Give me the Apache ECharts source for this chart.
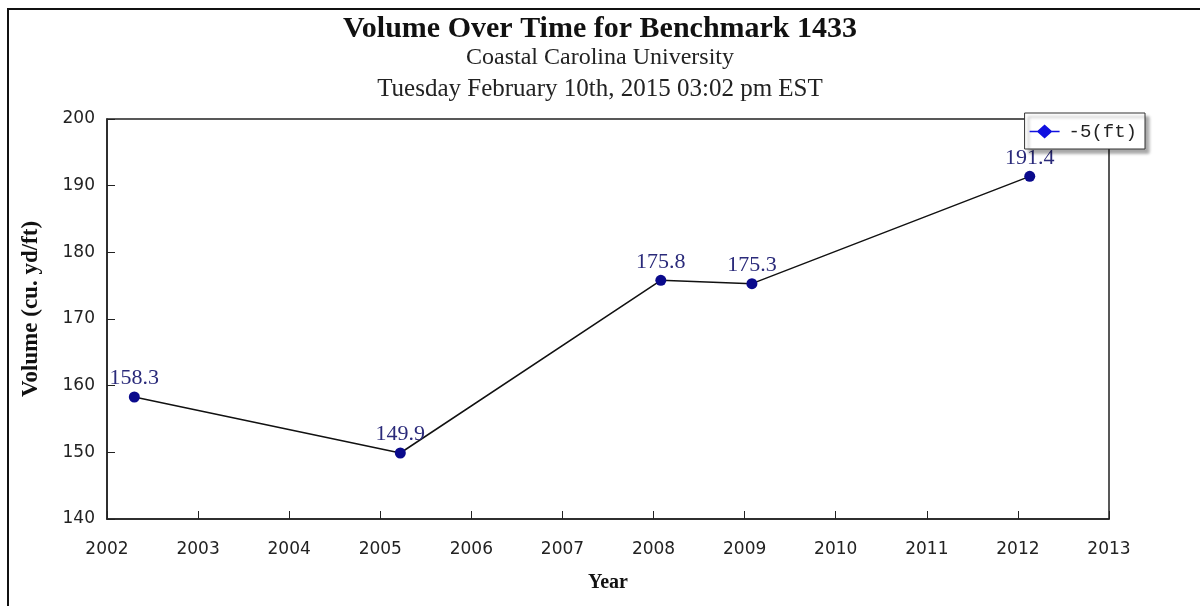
<!DOCTYPE html>
<html>
<head>
<meta charset="utf-8">
<title>Volume Over Time for Benchmark 1433</title>
<script src="https://cdn.jsdelivr.net/npm/echarts@6/dist/echarts.min.js"></script>
<style>
  html, body { margin: 0; padding: 0; background: #fff; }
  #chart { width: 1200px; height: 606px; }
</style>
</head>
<body>
<div id="chart"></div>
<script>
// survey years (decimal) and volumes
const years = [2002.3, 2005.22, 2008.08, 2009.08, 2012.13];
const volumes = [158.3, 149.9, 175.8, 175.3, 191.4];
const seriesName = '-5(ft)';
const titleText = 'Volume Over Time for Benchmark 1433';
const subLines = ['Coastal Carolina University', 'Tuesday February 10th, 2015 03:02 pm EST'];

const serif = '"Liberation Serif", "DejaVu Serif", serif';
const sans = '"DejaVu Sans", Verdana, sans-serif';

const chart = echarts.init(document.getElementById('chart'));

chart.setOption({
  animation: false,
  backgroundColor: '#fff',
  title: [{
    text: titleText,
    left: 'center',
    top: 13,
    padding: 0,
    textStyle: { fontFamily: serif, fontSize: 30, fontWeight: 'bold', color: '#111', lineHeight: 32 }
  }, {
    text: subLines[0],
    left: 'center',
    top: 44,
    padding: 0,
    textStyle: { fontFamily: serif, fontSize: 24, fontWeight: 'normal', color: '#222', lineHeight: 28 }
  }, {
    text: subLines[1],
    left: 'center',
    top: 75,
    padding: 0,
    textStyle: { fontFamily: serif, fontSize: 25, fontWeight: 'normal', color: '#222', lineHeight: 28 }
  }],
  legend: {
    data: [{ name: seriesName, icon: 'path://M0,6.3h8l7,-6.3l7,6.3h8v1.4h-8l-7,6.3l-7,-6.3h-8z', itemStyle: { color: '#1010e0' } }],
    right: 55,
    top: 113,
    backgroundColor: '#fff',
    borderColor: '#333',
    borderWidth: 1,
    padding: [9, 8, 8, 5],
    borderRadius: 0,
    shadowColor: 'rgba(0,0,0,0.35)',
    shadowOffsetX: 4,
    shadowOffsetY: 4,
    shadowBlur: 3,
    itemWidth: 30,
    itemHeight: 14,
    textStyle: { fontFamily: '"Liberation Mono", "DejaVu Sans Mono", monospace', fontSize: 19, color: '#222', padding: [0, 0, 0, 4] }
  },
  grid: {
    left: 107,
    right: 91,
    top: 119,
    bottom: 87,
    show: true,
    borderColor: '#222',
    borderWidth: 1.5
  },
  xAxis: {
    type: 'value',
    min: 2002,
    max: 2013,
    interval: 1,
    name: 'Year',
    nameLocation: 'middle',
    nameGap: 54,
    nameTextStyle: { fontFamily: serif, fontSize: 20, fontWeight: 'bold', color: '#111' },
    axisLine: { show: true, lineStyle: { color: '#222', width: 1.5 } },
    axisTick: { show: true, inside: true, length: 8, lineStyle: { color: '#222' } },
    axisLabel: { fontFamily: sans, fontSize: 17, color: '#222', margin: 22, formatter: v => String(v) },
    splitLine: { show: false }
  },
  yAxis: {
    type: 'value',
    min: 140,
    max: 200,
    interval: 10,
    name: 'Volume (cu. yd/ft)',
    nameLocation: 'middle',
    nameGap: 64,
    nameRotate: 90,
    nameTextStyle: { fontFamily: serif, fontSize: 23, fontWeight: 'bold', color: '#111', padding: [0, 0, 0, 20] },
    axisLine: { show: true, lineStyle: { color: '#222', width: 1.5 } },
    axisTick: { show: true, inside: true, length: 8, lineStyle: { color: '#222' } },
    axisLabel: { fontFamily: sans, fontSize: 17, color: '#222', margin: 12 },
    splitLine: { show: false }
  },
  series: [{
    name: seriesName,
    type: 'line',
    data: years.map((y, i) => [y, volumes[i]]),
    symbol: 'circle',
    symbolSize: 11,
    itemStyle: { color: '#0a0a8c' },
    lineStyle: { color: '#111', width: 1.5 },
    label: {
      show: true,
      position: 'top',
      distance: 2,
      fontFamily: serif,
      fontSize: 22,
      color: '#2a2a7a',
      formatter: p => p.value[1].toFixed(1)
    }
  }],
  graphic: [{
    type: 'rect',
    shape: { x: 8, y: 9, width: 1300, height: 700 },
    style: { fill: 'none', stroke: '#111', lineWidth: 2 },
    silent: true
  }]
});
</script>
</body>
</html>
